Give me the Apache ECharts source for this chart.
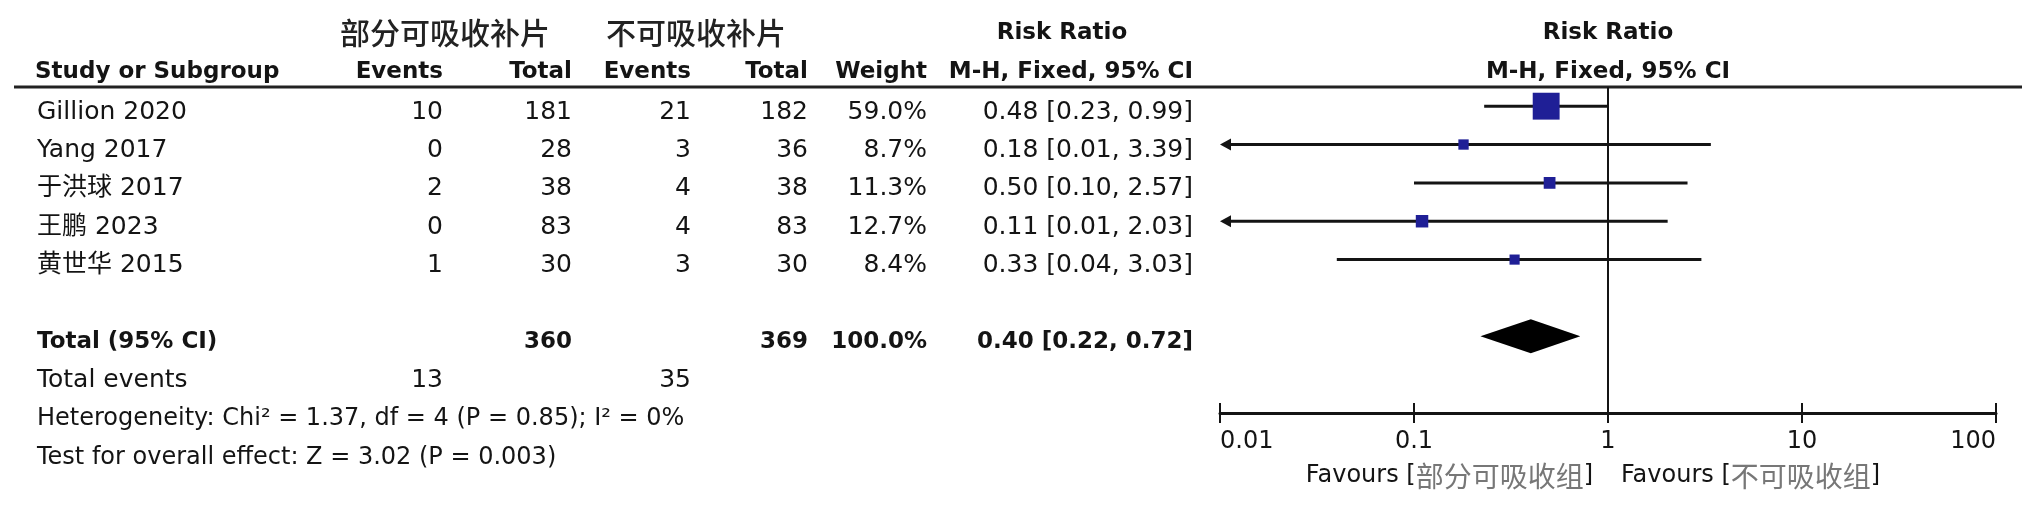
<!DOCTYPE html>
<html>
<head>
<meta charset="utf-8">
<script src="https://cdn.jsdelivr.net/npm/echarts@6/dist/echarts.min.js"></script>
<style>
  html, body { margin: 0; padding: 0; background: #fff; }
  #chart { width: 2037px; height: 505px; }
</style>
</head>
<body>
<div id="chart"></div>
<script>
// study rows
const studies = ['Gillion 2020', 'Yang 2017', '于洪球 2017', '王鹏 2023', '黄世华 2015'];
const expEvents = [10, 0, 2, 0, 1];
const expTotal = [181, 28, 38, 83, 30];
const ctrlEvents = [21, 3, 4, 4, 3];
const ctrlTotal = [182, 36, 38, 83, 30];
const weights = [59.0, 8.7, 11.3, 12.7, 8.4];
const rr = [0.48, 0.18, 0.50, 0.11, 0.33];
const ciLow = [0.23, 0.01, 0.10, 0.01, 0.04];
const ciHigh = [0.99, 3.39, 2.57, 2.03, 3.03];

// pooled result
const pooled = [0.40, 0.22, 0.72];
const pooledWeight = 100.0;
const pooledTotals = [360, 369];
const pooledEvents = [13, 35];
const heterogeneity = 'Heterogeneity: Chi² = 1.37, df = 4 (P = 0.85); I² = 0%';
const overallTest = 'Test for overall effect: Z = 3.02 (P = 0.003)';

// axis
const xTicks = [0.01, 0.1, 1, 10, 100];
const groupNames = ['部分可吸收补片', '不可吸收补片'];
const favours = ['部分可吸收组', '不可吸收组'];

const TOTAL_ROW = 6;
const FONT = 'DejaVu Sans, Noto Sans CJK SC, sans-serif';
const CJK = 'Noto Sans CJK SC, sans-serif';
const INK = '#141414';

const chart = echarts.init(document.getElementById('chart'));

function fmt(v, d) { return v.toFixed(d); }

function renderStudy(params, api) {
  const est = api.value(0), lo = api.value(1), hi = api.value(2), w = api.value(3), row = api.value(4);
  const minX = xTicks[0], maxX = xTicks[xTicks.length - 1];
  const c = api.coord([est, row]);
  const y = c[1];
  const clipped = lo <= minX;
  const xl = api.coord([Math.max(lo, minX), row])[0];
  const xh = api.coord([Math.min(hi, maxX), row])[0];
  const s = 3.5 * Math.sqrt(w);
  const children = [{
    type: 'line',
    shape: { x1: clipped ? xl + 6 : xl, y1: y, x2: xh, y2: y },
    style: { stroke: INK, lineWidth: 3 }
  }];
  if (clipped) {
    children.push({
      type: 'polygon',
      shape: { points: [[xl, y], [xl + 11, y - 6], [xl + 11, y + 6]] },
      style: { fill: INK }
    });
  }
  children.push({
    type: 'rect',
    shape: { x: c[0] - s / 2, y: y - s / 2, width: s, height: s },
    style: { fill: '#1f1f96' }
  });
  return { type: 'group', children: children };
}

function renderDiamond(params, api) {
  const row = api.value(3);
  const pe = api.coord([api.value(0), row]);
  const xl = api.coord([api.value(1), row])[0];
  const xh = api.coord([api.value(2), row])[0];
  const h = 17;
  return {
    type: 'polygon',
    shape: { points: [[xl, pe[1]], [pe[0], pe[1] - h], [xh, pe[1]], [pe[0], pe[1] + h]] },
    style: { fill: '#000' }
  };
}

const axisBase = {
  type: 'log',
  logBase: 10,
  min: xTicks[0],
  max: xTicks[xTicks.length - 1],
  position: 'bottom',
  splitLine: { show: false },
  minorTick: { show: false }
};

chart.setOption({
  animation: false,
  grid: { left: 1220, right: 41, top: 87, bottom: 92 },
  xAxis: [
    Object.assign({}, axisBase, {
      axisLine: { show: true, onZero: false, lineStyle: { color: INK, width: 3 } },
      axisTick: { show: true, length: 10, lineStyle: { color: INK, width: 2 } },
      axisLabel: {
        margin: 17,
        color: INK,
        fontFamily: FONT,
        fontSize: 24,
        alignMinLabel: 'left',
        alignMaxLabel: 'right',
        formatter: function (v) { return String(Number(v.toPrecision(6))); }
      }
    }),
    Object.assign({}, axisBase, {
      axisLine: { show: false, onZero: false },
      axisTick: { show: true, inside: true, length: 10, lineStyle: { color: INK, width: 2 } },
      axisLabel: { show: false }
    })
  ],
  yAxis: { type: 'value', min: -0.5, max: 8, inverse: true, show: false, axisLine: { onZero: false } },
  series: [
    {
      type: 'line',
      silent: true,
      symbol: 'none',
      data: [[1, -0.5], [1, 8]],
      lineStyle: { color: INK, width: 2 },
      z: 1
    },
    {
      type: 'custom',
      silent: true,
      renderItem: renderStudy,
      encode: { x: [0, 1, 2], y: 4 },
      data: studies.map((s, i) => [rr[i], ciLow[i], ciHigh[i], weights[i], i]),
      z: 3
    },
    {
      type: 'custom',
      silent: true,
      renderItem: renderDiamond,
      encode: { x: [0, 1, 2], y: 3 },
      data: [[pooled[0], pooled[1], pooled[2], TOTAL_ROW]],
      z: 3
    }
  ]
});

// table text, placed on the same row scale as the plot
const rowY = i => chart.convertToPixel({ xAxisIndex: 0, yAxisIndex: 0 }, [1, i])[1] + 6;
const oneX = chart.convertToPixel({ xAxisIndex: 0, yAxisIndex: 0 }, [1, 0])[0];
const lineY = chart.convertToPixel({ xAxisIndex: 0, yAxisIndex: 0 }, [1, -0.5])[1];

const texts = [];
function txt(text, x, y, align, opts) {
  opts = opts || {};
  texts.push({
    type: 'text',
    x: x, y: y,
    z: 10,
    silent: true,
    style: {
      text: text,
      fontFamily: opts.family || FONT,
      fontSize: opts.size || 25,
      fontWeight: opts.weight || (opts.bold ? 'bold' : 'normal'),
      fill: opts.fill || INK,
      align: align, textAlign: align,
      verticalAlign: 'middle', textVerticalAlign: 'middle',
      rich: opts.rich
    }
  });
}
const B = { bold: true, size: 23 };

// headers
txt(groupNames[0], 340, 33, 'left', { family: CJK, size: 30, fill: '#222', weight: 500 });
txt(groupNames[1], 606, 33, 'left', { family: CJK, size: 30, fill: '#222', weight: 500 });
txt('Risk Ratio', 1062, 33, 'center', B);
txt('Risk Ratio', oneX, 33, 'center', B);
txt('Study or Subgroup', 35, 72, 'left', B);
txt('Events', 443, 72, 'right', B);
txt('Total', 572, 72, 'right', B);
txt('Events', 691, 72, 'right', B);
txt('Total', 808, 72, 'right', B);
txt('Weight', 927, 72, 'right', B);
txt('M-H, Fixed, 95% CI', 1193, 72, 'right', B);
txt('M-H, Fixed, 95% CI', oneX, 72, 'center', B);

// study rows
studies.forEach((s, i) => {
  const y = rowY(i);
  txt(s, 37, y, 'left');
  txt(String(expEvents[i]), 443, y, 'right');
  txt(String(expTotal[i]), 572, y, 'right');
  txt(String(ctrlEvents[i]), 691, y, 'right');
  txt(String(ctrlTotal[i]), 808, y, 'right');
  txt(fmt(weights[i], 1) + '%', 927, y, 'right');
  txt(fmt(rr[i], 2) + ' [' + fmt(ciLow[i], 2) + ', ' + fmt(ciHigh[i], 2) + ']', 1193, y, 'right');
});

// totals
let y = rowY(TOTAL_ROW);
txt('Total (95% CI)', 37, y, 'left', B);
txt(String(pooledTotals[0]), 572, y, 'right', B);
txt(String(pooledTotals[1]), 808, y, 'right', B);
txt(fmt(pooledWeight, 1) + '%', 927, y, 'right', B);
txt(fmt(pooled[0], 2) + ' [' + fmt(pooled[1], 2) + ', ' + fmt(pooled[2], 2) + ']', 1193, y, 'right', B);
y = rowY(TOTAL_ROW + 1);
txt('Total events', 37, y, 'left');
txt(String(pooledEvents[0]), 443, y, 'right');
txt(String(pooledEvents[1]), 691, y, 'right');
txt(heterogeneity, 37, rowY(TOTAL_ROW + 2), 'left', { size: 24 });
txt(overallTest, 37, rowY(TOTAL_ROW + 3), 'left', { size: 24 });

// favours labels under the axis
const favRich = {
  f: { fontFamily: FONT, fontSize: 24, fill: INK, color: INK },
  c: { fontFamily: CJK, fontSize: 28, fill: '#777', color: '#777' }
};
txt('{f|Favours [}{c|' + favours[0] + '}{f|]}', oneX - 15, 476, 'right', { rich: favRich });
txt('{f|Favours [}{c|' + favours[1] + '}{f|]}', oneX + 13, 476, 'left', { rich: favRich });

chart.setOption({
  graphic: [{
    type: 'line',
    silent: true,
    shape: { x1: 14, y1: lineY, x2: 2022, y2: lineY },
    style: { stroke: '#222', lineWidth: 3 }
  }].concat(texts)
});
</script>
</body>
</html>
